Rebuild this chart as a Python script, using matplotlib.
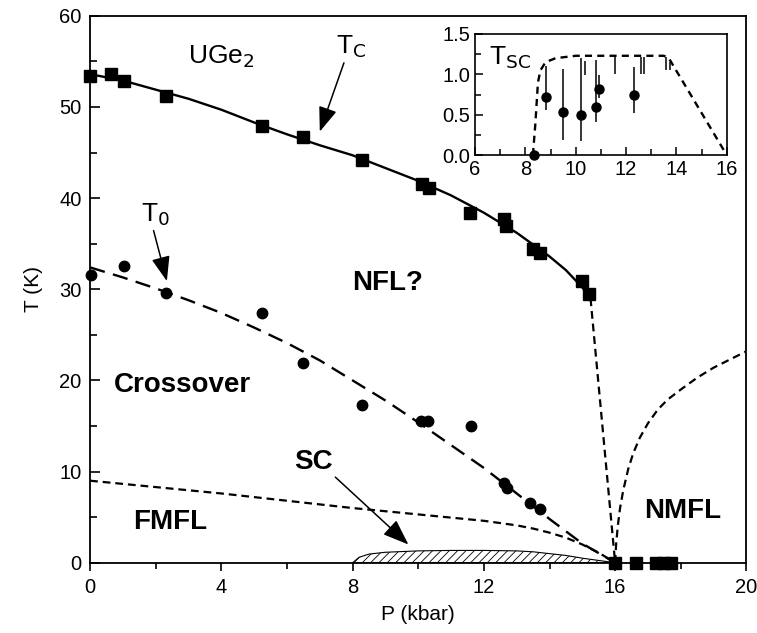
import numpy as np
import matplotlib.pyplot as plt

plt.rcParams['font.family'] = ['Liberation Sans', 'DejaVu Sans']
plt.rcParams['hatch.linewidth'] = 0.6

# T_C data (squares)
tc_p = [0.0, 0.63, 1.02, 2.31, 5.23, 6.5, 8.3, 10.11, 10.32, 11.59, 12.6, 12.68, 13.5, 13.7, 14.99, 15.19]
tc_t = [53.4, 53.6, 52.8, 51.2, 47.9, 46.7, 44.2, 41.5, 41.1, 38.4, 37.7, 36.9, 34.4, 34.0, 30.9, 29.5]
# squares sitting on the axis above 16 kbar
tc0_p = [16.0, 16.65, 17.25, 17.5, 17.7]
tc0_t = [0, 0, 0, 0, 0]

# T_0 data (circles)
t0_p = [0.02, 1.02, 2.32, 5.23, 6.5, 8.3, 10.08, 10.31, 11.6, 12.6, 12.7, 13.41, 13.7]
t0_t = [31.6, 32.5, 29.6, 27.4, 21.9, 17.25, 15.6, 15.6, 15.0, 8.8, 8.2, 6.5, 5.9]

# T_C line (solid) and its dashed continuation
tcline_p = [0, 1, 2, 3, 4, 5, 6, 7, 8, 9, 10, 11, 12, 13, 14, 14.5, 15, 15.25]
tcline_t = [53.6, 52.9, 51.9, 50.9, 49.7, 48.3, 47.0, 45.8, 44.7, 43.3, 41.9, 40.3, 38.4, 36.2, 33.6, 32.1, 30.2, 29.0]
tcdash_p = [15.25, 16.0]
tcdash_t = [29.0, 0.0]

# T_0 dashed line
t0line_p = [0, 1, 2, 3, 4, 5, 6, 7, 8, 9, 10, 11, 12, 13, 14, 15, 16]
t0line_t = [32.4, 31.3, 30.1, 28.8, 27.4, 25.8, 24.1, 22.2, 20.0, 17.8, 15.4, 12.9, 10.4, 7.6, 4.8, 2.1, 0.0]

# lower crossover dashed line
txline_p = [0, 2, 4, 6, 8, 10, 11, 12, 13, 13.5, 14, 14.5, 15, 15.5, 16]
txline_t = [9.0, 8.3, 7.6, 6.8, 6.0, 5.3, 4.95, 4.6, 4.1, 3.75, 3.3, 2.75, 2.0, 1.1, 0.0]

# NMFL boundary
nm_p = [16.0, 16.03, 16.08, 16.15, 16.25, 16.4, 16.55, 16.75, 17.0, 17.3, 17.6, 18.0, 18.5, 19.0, 19.5, 20.0]
nm_t = [0.0, 2.0, 4.0, 6.0, 8.0, 10.3, 12.0, 13.7, 15.3, 16.8, 17.9, 19.0, 20.3, 21.4, 22.3, 23.2]

# superconducting dome (main panel)
sc_p = [8.0, 8.2, 8.5, 9, 10, 11, 12, 13, 13.5, 14, 14.5, 15, 15.5, 16]
sc_t = [0, 0.6, 0.95, 1.15, 1.3, 1.35, 1.35, 1.3, 1.2, 1.0, 0.8, 0.5, 0.25, 0]

# inset: T_SC points with error bars
in_p = [8.34, 8.82, 9.51, 10.22, 10.79, 10.91, 12.32]
in_t = [0.0, 0.72, 0.53, 0.50, 0.60, 0.82, 0.75]
in_lo = [0.0, 0.56, 0.19, 0.17, 0.41, 0.71, 0.52]
in_hi = [0.0, 1.10, 1.06, 1.20, 1.18, 0.99, 1.09]
# bars without markers
bar_p = [10.37, 11.56, 12.6, 12.72, 13.6, 13.75]
bar_lo = [0.99, 1.0, 1.0, 1.0, 1.05, 1.05]
bar_hi = [1.16, 1.24, 1.22, 1.22, 1.22, 1.15]
# inset dashed curve
inc_p = [8.3, 8.4, 8.5, 8.6, 8.8, 9.2, 10, 13.5, 13.7, 16]
inc_t = [0.0, 0.4, 0.9, 1.05, 1.15, 1.2, 1.23, 1.23, 1.2, 0.0]

fig = plt.figure(figsize=(7.57, 6.33), dpi=100)
ax = fig.add_axes([0.119, 0.111, 0.867, 0.864])

ax.plot(tcline_p, tcline_t, color='k', lw=1.7)
ax.plot(tcdash_p, tcdash_t, color='k', lw=1.6, dashes=(3.5, 2.2))
ax.plot(t0line_p, t0line_t, color='k', lw=1.7, dashes=(6.5, 3.6))
ax.plot(txline_p, txline_t, color='k', lw=1.6, dashes=(3.5, 2.2))
ax.plot(nm_p, nm_t, color='k', lw=1.6, dashes=(3.5, 2.2))

ax.fill_between(sc_p, 0, sc_t, facecolor='white', edgecolor='k', hatch='////', lw=0.8)

ax.plot(tc_p, tc_t, 's', color='k', ms=8.5, clip_on=False)
ax.plot(tc0_p, tc0_t, 's', color='k', ms=8.5, clip_on=False, zorder=5)
ax.plot(t0_p, t0_t, 'o', color='k', ms=7.5, clip_on=False)

ax.set_xlim(0, 20)
ax.set_ylim(0, 60)
ax.set_xticks([0, 4, 8, 12, 16, 20])
ax.set_xticks([2, 6, 10, 14, 18], minor=True)
ax.set_yticks([0, 10, 20, 30, 40, 50, 60])
ax.set_yticks([5, 15, 25, 35, 45, 55], minor=True)
ax.tick_params(axis='x', which='both', direction='out', labelsize=14.5, width=1.2, pad=5)
ax.tick_params(axis='x', which='major', length=6)
ax.tick_params(axis='x', which='minor', length=4)
ax.tick_params(axis='y', which='both', direction='in', labelsize=14.5, width=1.2, pad=6)
ax.tick_params(axis='y', which='major', length=7)
ax.tick_params(axis='y', which='minor', length=5)
for s in ax.spines.values():
    s.set_linewidth(1.3)
ax.set_xlabel('P (kbar)', fontsize=15, labelpad=6)
ax.set_ylabel('T (K)', fontsize=15, labelpad=12)

# labels
ax.text(4.0, 55.5, r'UGe$_2$', fontsize=19, ha='center', va='center')
ax.text(9.05, 30.7, 'NFL?', fontsize=20, fontweight='bold', ha='center', va='center')
ax.text(2.8, 19.5, 'Crossover', fontsize=20, fontweight='bold', ha='center', va='center')
ax.text(2.45, 4.5, 'FMFL', fontsize=20, fontweight='bold', ha='center', va='center')
ax.text(18.05, 5.7, 'NMFL', fontsize=20, fontweight='bold', ha='center', va='center')

arr = dict(arrowstyle='-|>,head_length=0.8,head_width=0.3', color='k', lw=1.1, shrinkA=0, shrinkB=0)
ax.annotate(r'T$_{\rm C}$', xy=(7.0, 47.3), xytext=(7.95, 56.6), fontsize=19,
            ha='center', va='center', arrowprops=dict(arr, relpos=(0.3, 0.0)))
ax.annotate(r'T$_0$', xy=(2.34, 30.9), xytext=(2.0, 38.2), fontsize=19,
            ha='center', va='center', arrowprops=dict(arr, relpos=(0.4, 0.0)))
ax.annotate('SC', xy=(9.7, 2.0), xytext=(6.8, 11.1), fontsize=20, fontweight='bold',
            ha='center', va='center', arrowprops=dict(arr, relpos=(1.0, 0.0)))

# inset
axi = fig.add_axes([0.6275, 0.7551, 0.3325, 0.1912])
axi.plot(inc_p, inc_t, color='k', lw=1.7, dashes=(3, 2.2))
yerr = [np.array(in_t) - np.array(in_lo), np.array(in_hi) - np.array(in_t)]
axi.errorbar(in_p, in_t, yerr=yerr, fmt='o', color='k', ms=6.5, elinewidth=1.1, capsize=0, clip_on=False)
axi.vlines(bar_p, bar_lo, bar_hi, color='k', lw=1.1)
axi.set_xlim(6, 16)
axi.set_ylim(0, 1.5)
axi.set_xticks([6, 8, 10, 12, 14, 16])
axi.set_xticks([7, 9, 11, 13, 15], minor=True)
axi.set_yticks([0, 0.5, 1.0, 1.5])
axi.set_yticklabels(['0.0', '0.5', '1.0', '1.5'])
axi.set_yticks([0.25, 0.75, 1.25], minor=True)
axi.tick_params(which='both', direction='in', labelsize=14.5, width=1.1)
axi.tick_params(which='major', length=6)
axi.tick_params(which='minor', length=4)
for s in axi.spines.values():
    s.set_linewidth(1.2)
axi.text(7.4, 1.2, r'T$_{\rm SC}$', fontsize=19, ha='center', va='center')

fig.savefig('out.png', dpi=100)
